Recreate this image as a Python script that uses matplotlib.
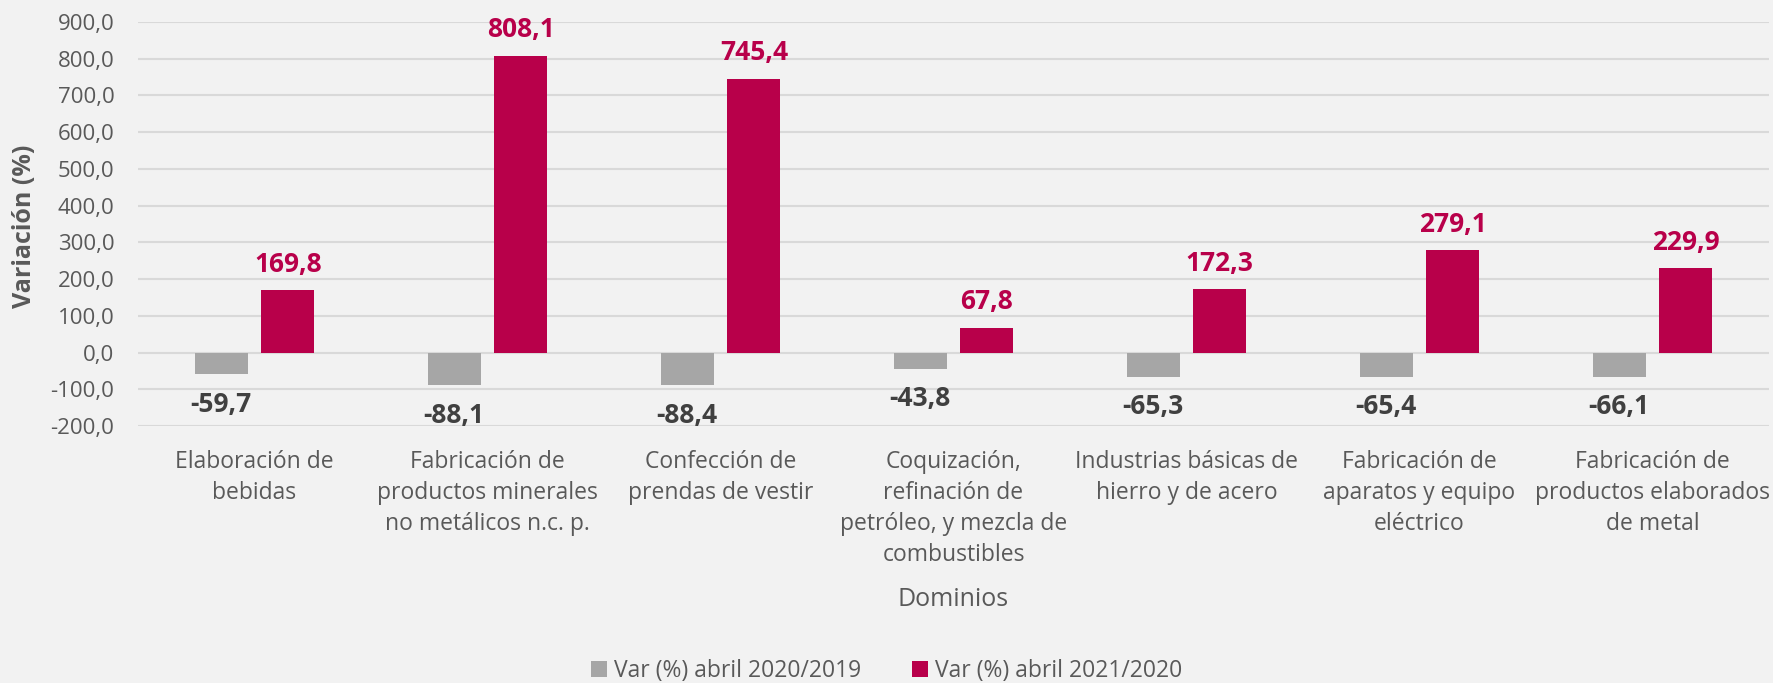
import matplotlib
matplotlib.use("Agg")
import matplotlib.pyplot as plt
import numpy as np
from matplotlib.ticker import FuncFormatter

plt.rcParams['font.family'] = ['Open Sans', 'DejaVu Sans']

categories = [
    "Elaboración de\nbebidas",
    "Fabricación de\nproductos minerales\nno metálicos n.c. p.",
    "Confección de\nprendas de vestir",
    "Coquización,\nrefinación de\npetróleo, y mezcla de\ncombustibles",
    "Industrias básicas de\nhierro y de acero",
    "Fabricación de\naparatos y equipo\neléctrico",
    "Fabricación de\nproductos elaborados\nde metal",
]
var_2020 = [-59.7, -88.1, -88.4, -43.8, -65.3, -65.4, -66.1]
var_2021 = [169.8, 808.1, 745.4, 67.8, 172.3, 279.1, 229.9]
series_names = ["Var (%) abril 2020/2019", "Var (%) abril 2021/2020"]

bg = '#F2F2F2'
gray = '#A6A6A6'
red = '#B8004A'
text_gray = '#595959'
label_dark = '#404040'

fig = plt.figure(figsize=(17.73, 6.83), dpi=100, facecolor=bg)
ax = fig.add_axes([138/1773, 1-426/683, (1769-138)/1773, (426-22)/683])
ax.set_facecolor(bg)

x = np.arange(len(categories))
w = 0.227
off = 0.143
b1 = ax.bar(x - off, var_2020, w, color=gray, label=series_names[0], zorder=3)
b2 = ax.bar(x + off, var_2021, w, color=red, label=series_names[1], zorder=3)

def fmt(v):
    return f"{v:.1f}".replace('.', ',')

for rect, v in zip(b2, var_2021):
    ax.annotate(fmt(v), (rect.get_x() + rect.get_width()/2, v), xytext=(0, 9),
                textcoords='offset points', ha='center', va='bottom',
                fontsize=19, fontweight='bold', color=red)
for rect, v in zip(b1, var_2020):
    ax.annotate(fmt(v), (rect.get_x() + rect.get_width()/2, v), xytext=(0, -12),
                textcoords='offset points', ha='center', va='top',
                fontsize=19, fontweight='bold', color=label_dark)

ax.set_xlim(-0.5, len(categories) - 0.5)
ax.set_ylim(-200, 900)
ax.set_yticks(np.arange(-200, 901, 100))
ax.yaxis.set_major_formatter(FuncFormatter(lambda v, p: fmt(v)))
ax.grid(axis='y', color='#D9D9D9', linewidth=1.5, zorder=0)
for s in ax.spines.values():
    s.set_visible(False)
ax.tick_params(axis='both', length=0, colors=text_gray, labelsize=16)
ax.tick_params(axis='y', pad=17)
ax.set_xticks(x)
ax.set_xticklabels(categories, linespacing=1.4, fontsize=16.5)
ax.tick_params(axis='x', pad=17)

fig.text(25/1773, 1-226/683, "Variación (%)", rotation=90, ha='center', va='center',
         fontsize=18, fontweight='bold', color=text_gray)
fig.text(953/1773, 1-599/683, "Dominios", ha='center', va='center', fontsize=18, color=text_gray)

leg = fig.legend(handles=[b1, b2], labels=series_names, loc='center',
                 bbox_to_anchor=(0.5, 1-671/683), ncol=2, frameon=False,
                 fontsize=16.5, handlelength=0.7, handleheight=0.7, handletextpad=0.3,
                 columnspacing=2.2)
for t in leg.get_texts():
    t.set_color(text_gray)

fig.savefig("out.png", dpi=100, facecolor=bg)
